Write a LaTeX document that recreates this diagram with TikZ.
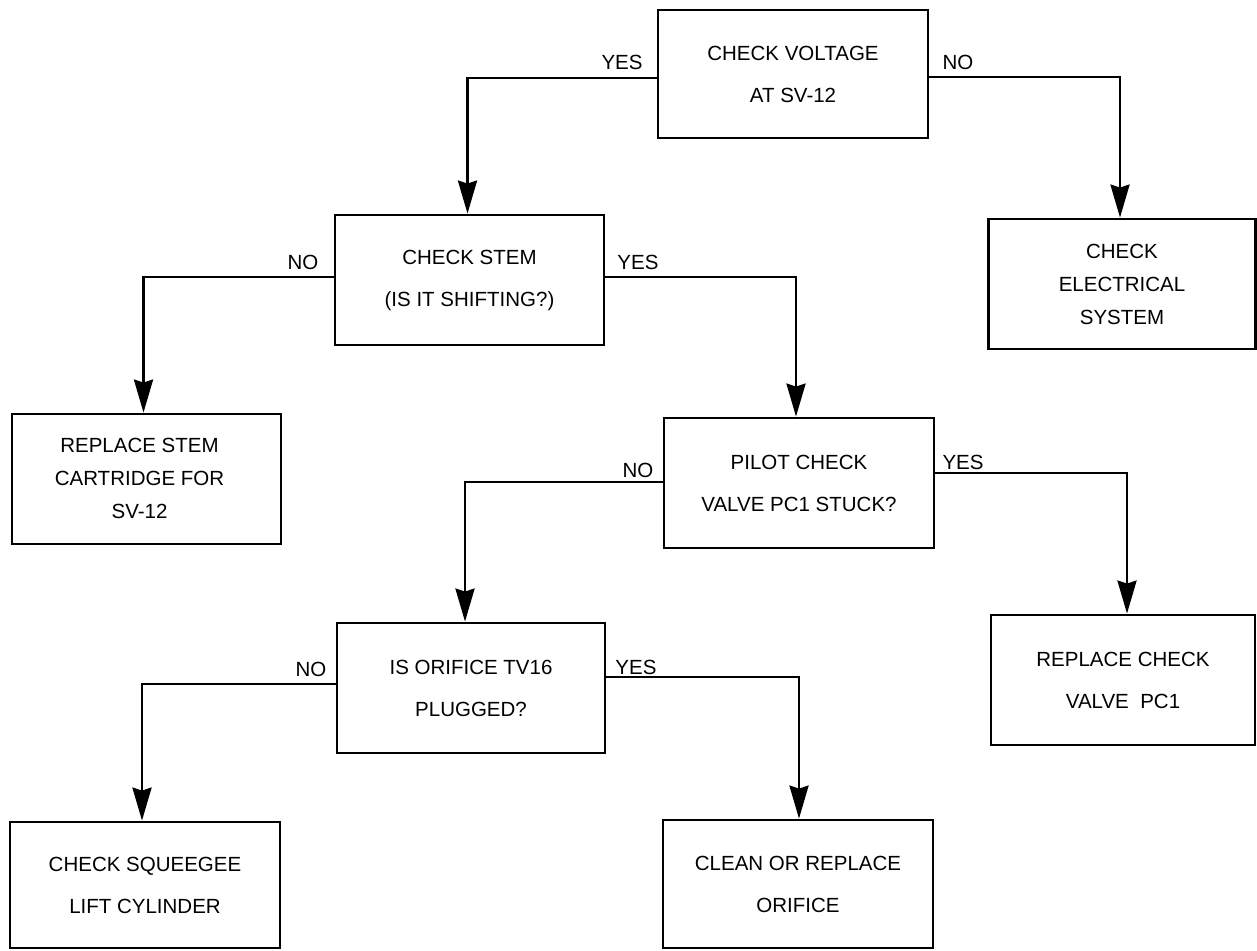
\documentclass[tikz,border=0pt]{standalone}
\usepackage{fontspec}
\setmainfont{Liberation Sans}
\usetikzlibrary{arrows.meta}
\tikzset{
  stepbox/.style={draw, line width=2.8pt, minimum width=270pt, minimum height=130pt,
    align=center, inner sep=0pt, font=\fontsize{20.5pt}{42pt}\selectfont},
  threebox/.style={stepbox, font=\fontsize{20.5pt}{33pt}\selectfont},
  lbl/.style={inner sep=0pt, font=\fontsize{20.5pt}{24pt}\selectfont},
  conn/.style={line width=2.8pt, -{Stealth[length=33pt,width=19pt,inset=3pt]}}
}
\begin{document}
\begin{tikzpicture}[x=1pt,y=-1pt]
\useasboundingbox (0,0) rectangle (1257,950);
% boxes
\node[stepbox, minimum height=128pt] (b1) at (793,74) {CHECK VOLTAGE\\AT SV-12};
\node[stepbox, minimum width=269pt] (b2) at (469.5,280) {CHECK STEM\\(IS IT SHIFTING?)};
\node[threebox, minimum width=269pt] (brs) at (146.5,479) {\begin{tabular}{@{}c@{\hspace{14pt}}}REPLACE STEM\\CARTRIDGE FOR\\SV-12\end{tabular}};
\node[threebox, minimum width=267pt] (bel) at (1122,284) {CHECK\\ELECTRICAL\\SYSTEM};
\node[stepbox] (b3) at (799,483) {PILOT CHECK\\VALVE PC1 STUCK?};
\node[stepbox, minimum width=264pt] (b5) at (1123,680) {REPLACE CHECK\\VALVE\ \ PC1};
\node[stepbox, minimum width=268pt] (b4) at (471,688) {IS ORIFICE TV16\\PLUGGED?};
\node[stepbox, minimum height=126pt] (b6) at (145,885) {CHECK SQUEEGEE\\LIFT CYLINDER};
\node[stepbox, minimum height=128pt] (b7) at (798,884) {CLEAN OR REPLACE\\ORIFICE};
% connectors
\draw[conn] ([yshift=-4pt]b1.west) -| ([xshift=-2pt]b2.north);
\draw[conn] ([yshift=-3pt]b1.east) -| ([xshift=-2pt]bel.north);
\draw[conn] ([yshift=3pt]b2.west) -| ([xshift=-3pt]brs.north);
\draw[conn] ([yshift=3pt]b2.east) -| ([xshift=-3pt]b3.north);
\draw[conn] ([yshift=1pt]b3.west) -| ([xshift=-6pt]b4.north);
\draw[conn] ([yshift=10pt]b3.east) -| ([xshift=4pt]b5.north);
\draw[conn] ([yshift=4pt]b4.west) -| ([xshift=-3pt]b6.north);
\draw[conn] ([yshift=11pt]b4.east) -| ([xshift=1pt]b7.north);
% labels
\node[lbl] (l1) at (622,62) {YES};
\node[lbl] (l2) at (958,62) {NO};
\node[lbl] (l3) at (303,262) {NO};
\node[lbl] (l4) at (638,262) {YES};
\node[lbl] (l5) at (638,470) {NO};
\node[lbl] (l6) at (963,462) {YES};
\node[lbl] (l7) at (311,669) {NO};
\node[lbl] (l8) at (636,667) {YES};
\end{tikzpicture}
\end{document}
